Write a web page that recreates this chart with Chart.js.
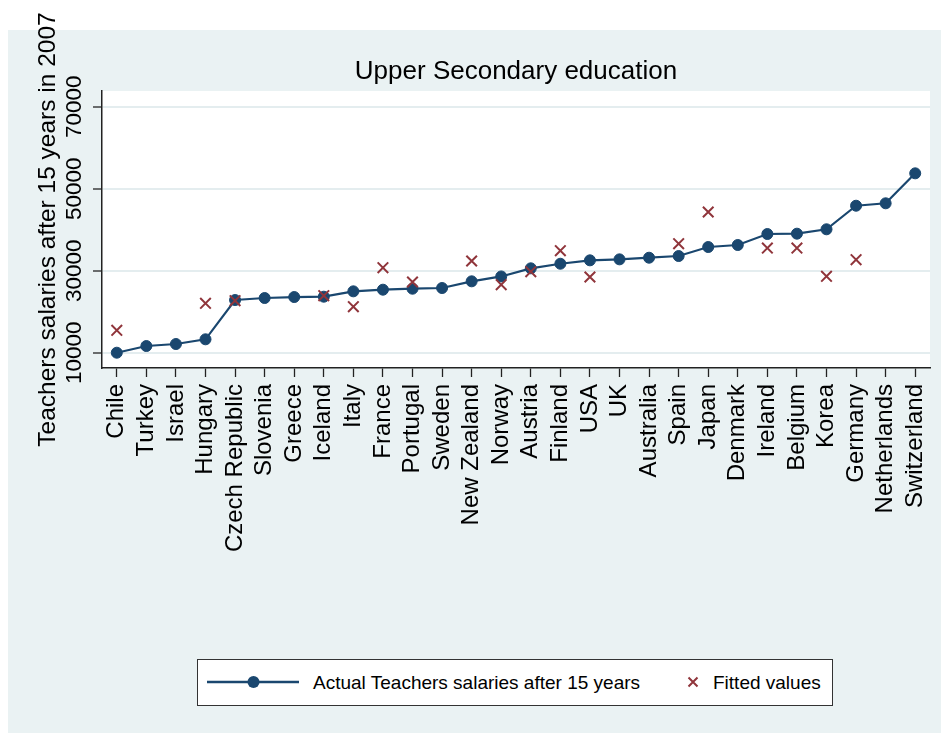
<!DOCTYPE html>
<html>
<head>
<meta charset="utf-8">
<title>Upper Secondary education</title>
<script src="https://cdn.jsdelivr.net/npm/chart.js@4.4.1/dist/chart.umd.min.js"></script>
<style>
  body { margin: 0; background: #fff; }
  #wrap { position: relative; width: 941px; height: 733px; }
  #legend {
    position: absolute; left: 197px; top: 659px; width: 634px; height: 45px;
    border: 1px solid #333; background: #fff;
    font: 19px "Liberation Sans", Arial, sans-serif; color: #000;
  }
  #legend .item { position: absolute; top: 0; height: 45px; line-height: 45px; white-space: nowrap; }
  #legend svg { position: absolute; }
</style>
</head>
<body>
<div id="wrap">
  <canvas id="salaryChart" width="941" height="733"></canvas>
  <div id="legend"></div>
</div>
<script>
// countries sorted by actual salary
const countries = ['Chile', 'Turkey', 'Israel', 'Hungary', 'Czech Republic', 'Slovenia', 'Greece',
  'Iceland', 'Italy', 'France', 'Portugal', 'Sweden', 'New Zealand', 'Norway', 'Austria', 'Finland',
  'USA', 'UK', 'Australia', 'Spain', 'Japan', 'Denmark', 'Ireland', 'Belgium', 'Korea', 'Germany',
  'Netherlands', 'Switzerland'];

const actualSalary = [10000, 11630, 12120, 13270, 22850, 23340, 23580, 23660, 24970, 25370, 25610,
  25780, 27410, 28600, 30580, 31700, 32530, 32770, 33170, 33580, 35780, 36270, 38950, 39030, 40100,
  45850, 46440, 53750];

// regression fit, missing where no prediction was made
const fittedSalary = [15460, null, null, 22050, 22680, null, null, 23900, 21220, 30730, 27240, null,
  32370, 26600, 29760, 34880, 28460, null, null, 36590, 44320, null, 35530, 35530, 28630, 32680,
  null, null];

const yTicks = [10000, 30000, 50000, 70000];
const yMin = 6270;
const yMax = 73830;

const FONT = '"Liberation Sans", Arial, Helvetica, sans-serif';
const NAVY = '#1a476f';
const MAROON = '#90353b';
const PANEL = '#eaf2f3';
const AXIS = '#222';

// grey outer panel with a white plot region
const backdrop = {
  id: 'backdrop',
  beforeDraw(chart) {
    const { ctx, chartArea: a } = chart;
    ctx.save();
    ctx.fillStyle = '#fff';
    ctx.fillRect(0, 0, chart.width, chart.height);
    ctx.fillStyle = PANEL;
    ctx.fillRect(8, 30, chart.width - 8, chart.height - 30);
    ctx.fillStyle = '#fff';
    ctx.fillRect(a.left, a.top, a.right - a.left, a.bottom - a.top);
    ctx.restore();
  }
};

const chart = new Chart(document.getElementById('salaryChart'), {
  type: 'line',
  data: {
    labels: countries,
    datasets: [
      {
        label: 'Fitted values',
        data: fittedSalary,
        order: 0,
        showLine: false,
        pointStyle: 'crossRot',
        pointRadius: 7.5,
        pointBorderWidth: 2,
        borderColor: MAROON,
        backgroundColor: MAROON
      },
      {
        label: 'Actual Teachers salaries after 15 years',
        data: actualSalary,
        order: 1,
        borderColor: NAVY,
        backgroundColor: NAVY,
        borderWidth: 2.2,
        pointRadius: 5.5,
        pointBorderWidth: 1,
        pointBackgroundColor: NAVY,
        tension: 0
      }
    ]
  },
  options: {
    responsive: false,
    animation: false,
    events: [],
    layout: { padding: { top: 0, left: 0, right: 11, bottom: 0 } },
    plugins: {
      legend: { display: false },
      tooltip: { enabled: false },
      title: {
        display: true,
        fullSize: false,
        text: 'Upper Secondary education',
        color: '#000',
        font: { size: 26, weight: 'normal', family: FONT },
        padding: { top: 56, bottom: 3.8 }
      }
    },
    scales: {
      x: {
        offset: true,
        grid: { drawOnChartArea: false, tickLength: 9, tickColor: AXIS, tickWidth: 1.3 },
        border: { color: AXIS, width: 1.5 },
        ticks: {
          color: '#000',
          font: { size: 24, family: FONT },
          minRotation: 90,
          maxRotation: 90,
          autoSkip: false,
          padding: 7
        },
        afterFit(scale) {
          scale.height = 365;
          scale.paddingLeft = 0;
          scale.paddingRight = 0;
        }
      },
      y: {
        min: yMin,
        max: yMax,
        afterBuildTicks(scale) { scale.ticks = yTicks.map(v => ({ value: v })); },
        grid: { color: '#e4edef', lineWidth: 2, tickLength: 9, tickColor: AXIS, tickWidth: 1.3 },
        border: { color: AXIS, width: 1.5 },
        ticks: {
          color: '#000',
          font: { size: 22.5, family: FONT },
          minRotation: 90,
          maxRotation: 90,
          crossAlign: 'center',
          padding: -13,
          autoSkip: false,
          callback: v => String(v)
        },
        title: {
          display: true,
          text: 'Teachers salaries after 15 years in 2007',
          color: '#000',
          font: { size: 24.5, family: FONT },
          padding: { top: 33.5, bottom: 0 }
        },
        afterFit(scale) {
          scale.width = 102;
          scale.paddingTop = 0;
          scale.paddingBottom = 0;
        }
      }
    }
  },
  plugins: [backdrop]
});

// legend box below the plot
function buildLegend(chart) {
  const [fitted, actual] = chart.data.datasets;
  const el = document.getElementById('legend');
  el.innerHTML =
    `<svg style="left:9px;top:15px" width="92" height="14">
       <line x1="0" y1="7" x2="92" y2="7" stroke="${actual.borderColor}" stroke-width="2.5"/>
       <circle cx="46.5" cy="7" r="6" fill="${actual.pointBackgroundColor}"/>
     </svg>
     <span class="item" style="left:115px">${actual.label}</span>
     <svg style="left:489px;top:16px" width="12" height="12">
       <path d="M1.5 1.5 L10.5 10.5 M10.5 1.5 L1.5 10.5" stroke="${fitted.borderColor}" stroke-width="2"/>
     </svg>
     <span class="item" style="left:515px">${fitted.label}</span>`;
}
buildLegend(chart);
</script>
</body>
</html>
